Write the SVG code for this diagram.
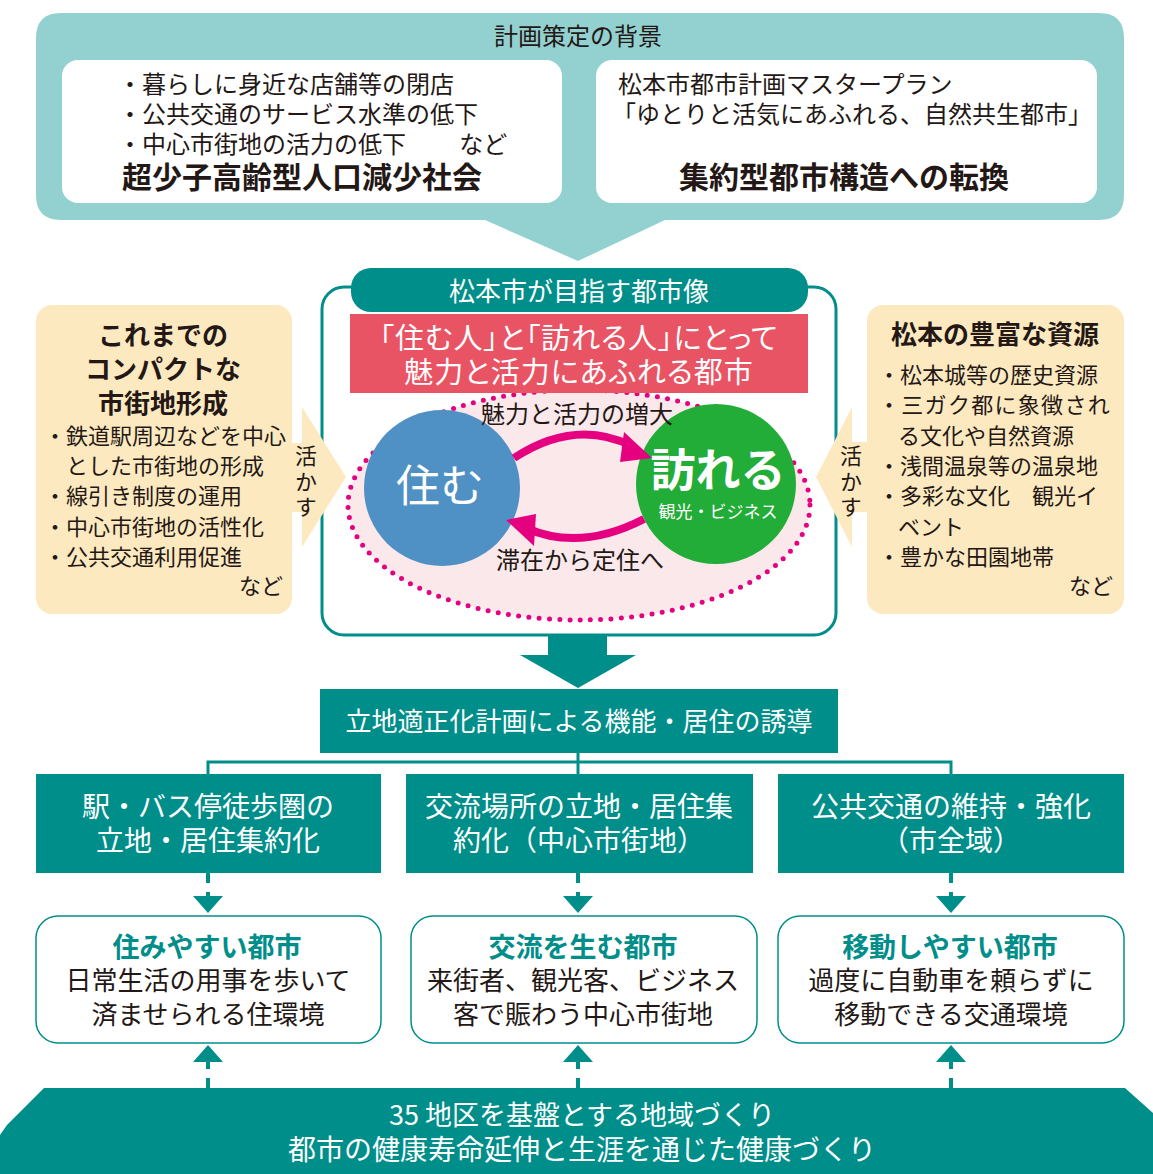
<svg xmlns="http://www.w3.org/2000/svg" width="1153" height="1174" viewBox="0 0 1153 1174">
<defs>
<style>
text{font-family:"Noto Sans CJK JP","Noto Sans",sans-serif;fill:#231815}
.c{text-anchor:middle}
.w{fill:#fff}
.b{font-weight:bold}
.tl{fill:#008e8a}
.teal{fill:#008e8a}
.beige{fill:#fde9c0}
.res{fill:#fff;stroke:#008e8a;stroke-width:1.5}
.ln{stroke:#008e8a;stroke-width:3;fill:none}
.dash{stroke:#008e8a;stroke-width:4;stroke-dasharray:10 9;fill:none}
.mg{stroke:#e4007f;stroke-width:8;fill:none}
.v{writing-mode:vertical-rl;font-size:22px;letter-spacing:3.5px}
.palt{font-feature-settings:"palt"}
</style>
</defs>
<rect width="1153" height="1174" fill="#fff"/>

<g id="background">
<path d="M61 13 H1099 Q1124 13 1124 38 V195 Q1124 220 1099 220 H665 L578 261 L485 220 H61 Q36 220 36 195 V38 Q36 13 61 13 Z" fill="#93d1d1"/>
<text class="c" x="578" y="45" font-size="24">計画策定の背景</text>
<rect x="62" y="60" width="500" height="143" rx="16" fill="#fff"/>
<text font-size="24" xml:space="preserve"><tspan x="118" y="93">・暮らしに身近な店舗等の閉店</tspan><tspan x="118" y="123">・公共交通のサービス水準の低下</tspan><tspan x="118" y="153">・中心市街地の活力の低下　　 など</tspan></text>
<text class="c b" x="302" y="188" font-size="30">超少子高齢型人口減少社会</text>
<rect x="596" y="60" width="501" height="143" rx="16" fill="#fff"/>
<text font-size="24"><tspan x="618" y="93">松本市都市計画マスタープラン</tspan><tspan x="612" y="123">「ゆとりと活気にあふれる、自然共生都市」</tspan></text>
<text class="c b" x="844" y="188" font-size="30">集約型都市構造への転換</text>
</g>

<g id="vision">
<rect x="322" y="287" width="514" height="348" rx="22" fill="#fff" stroke="#008e8a" stroke-width="3"/>
<ellipse cx="579" cy="505" rx="231" ry="115" fill="#fbe8eb" stroke="#e4007f" stroke-width="5" stroke-dasharray="0 10.3" stroke-linecap="round"/>
<rect x="351" y="268" width="457" height="44" rx="20" class="teal"/>
<text class="c w" x="579" y="301" font-size="26">松本市が目指す都市像</text>
<rect x="350" y="314" width="458" height="79" fill="#e95464"/>
<text class="c w palt" font-size="29" letter-spacing="1"><tspan x="579" y="349">「住む人」と「訪れる人」にとって</tspan><tspan x="579" y="383">魅力と活力にあふれる都市</tspan></text>
<circle cx="442" cy="488" r="78" fill="#4f91c4"/>
<text class="c w" x="440" y="502" font-size="44">住む</text>
<circle cx="716" cy="484" r="80" fill="#22ac38"/>
<text class="c w b" x="718" y="487" font-size="45">訪れる</text>
<text class="c w" x="718" y="518" font-size="17">観光・ビジネス</text>
<path class="mg" d="M514 458 Q575 418 632 446"/>
<polygon points="652,458 624,432 620,462" fill="#e4007f"/>
<path class="mg" d="M644 519 Q580 552 526 528"/>
<polygon points="506,520 534,546 536,514" fill="#e4007f"/>
<text class="c" x="577" y="423" font-size="24">魅力と活力の増大</text>
<text class="c" x="580" y="569" font-size="24">滞在から定住へ</text>
</g>

<g id="left-box">
<rect x="36" y="305" width="256" height="309" rx="16" class="beige"/>
<polygon points="290,443 302,443 302,407 346,477 302,547 302,512 290,512" class="beige"/>
<text class="c b" font-size="26"><tspan x="163" y="345">これまでの</tspan><tspan x="163" y="379">コンパクトな</tspan><tspan x="163" y="413">市街地形成</tspan></text>
<text font-size="22"><tspan x="44" y="444">・鉄道駅周辺などを中心</tspan><tspan x="66" y="474">とした市街地の形成</tspan><tspan x="44" y="504">・線引き制度の運用</tspan><tspan x="44" y="535">・中心市街地の活性化</tspan><tspan x="44" y="565">・公共交通利用促進</tspan><tspan x="283" y="594" text-anchor="end">など</tspan></text>
<text class="v" x="306" y="445">活かす</text>
</g>

<g id="right-box">
<rect x="867" y="305" width="257" height="309" rx="16" class="beige"/>
<polygon points="869,442 852,442 852,407 816,477 852,547 852,512 869,512" class="beige"/>
<text class="c b" x="995" y="344" font-size="26">松本の豊富な資源</text>
<text font-size="22" xml:space="preserve"><tspan x="878" y="383">・松本城等の歴史資源</tspan><tspan x="878" y="413" letter-spacing="1.3">・三ガク都に象徴され</tspan><tspan x="898" y="444">る文化や自然資源</tspan><tspan x="878" y="474">・浅間温泉等の温泉地</tspan><tspan x="878" y="504">・多彩な文化　観光イ</tspan><tspan x="898" y="535">ベント</tspan><tspan x="878" y="565">・豊かな田園地帯</tspan><tspan x="1113" y="594" text-anchor="end">など</tspan></text>
<text class="v" x="851" y="445">活かす</text>
</g>

<g id="connectors">
<polygon points="548,636 607,636 607,655 636,655 578,688 520,655 548,655" class="teal"/>
<path class="ln" d="M578 753 V762 M208 775 V762 H951 V775 M578 762 V775"/>
<path class="dash" d="M208 873 V898 M578 873 V898 M951 873 V898"/>
<polygon points="193,896 223,896 208,913" class="teal"/>
<polygon points="563,896 593,896 578,913" class="teal"/>
<polygon points="936,896 966,896 951,913" class="teal"/>
<path class="dash" d="M208 1088 V1060 M578 1088 V1060 M951 1088 V1060"/>
<polygon points="193,1062 223,1062 208,1045" class="teal"/>
<polygon points="563,1062 593,1062 578,1045" class="teal"/>
<polygon points="936,1062 966,1062 951,1045" class="teal"/>
</g>

<g id="plan">
<rect x="320" y="689" width="518" height="64" class="teal"/>
<text class="c w" x="579" y="731" font-size="26">立地適正化計画による機能・居住の誘導</text>
</g>

<g id="measure1">
<rect x="36" y="774" width="345" height="99" class="teal"/>
<text class="c w" font-size="28"><tspan x="208" y="817">駅・バス停徒歩圏の</tspan><tspan x="208" y="851">立地・居住集約化</tspan></text>
</g>
<g id="measure2">
<rect x="406" y="774" width="347" height="99" class="teal"/>
<text class="c w" font-size="28"><tspan x="579" y="817">交流場所の立地・居住集</tspan><tspan x="579" y="851">約化（中心市街地）</tspan></text>
</g>
<g id="measure3">
<rect x="778" y="774" width="346" height="99" class="teal"/>
<text class="c w" font-size="28"><tspan x="951" y="817">公共交通の維持・強化</tspan><tspan x="951" y="851">（市全域）</tspan></text>
</g>

<g id="result1">
<rect x="36" y="916" width="345" height="127" rx="22" class="res"/>
<text class="c" font-size="26"><tspan x="207" y="957" class="b tl" font-size="27">住みやすい都市</tspan><tspan x="208" y="990">日常生活の用事を歩いて</tspan><tspan x="208" y="1024">済ませられる住環境</tspan></text>
</g>
<g id="result2">
<rect x="411" y="916" width="346" height="127" rx="22" class="res"/>
<text class="c" font-size="26"><tspan x="583" y="957" class="b tl" font-size="27">交流を生む都市</tspan><tspan x="583" y="990">来街者、観光客、ビジネス</tspan><tspan x="583" y="1024">客で賑わう中心市街地</tspan></text>
</g>
<g id="result3">
<rect x="778" y="916" width="346" height="127" rx="22" class="res"/>
<text class="c" font-size="26"><tspan x="950" y="957" class="b tl" font-size="27">移動しやすい都市</tspan><tspan x="951" y="990">過度に自動車を頼らずに</tspan><tspan x="951" y="1024">移動できる交通環境</tspan></text>
</g>

<g id="foundation">
<polygon points="44,1088 1125,1088 1153,1113 1153,1174 0,1174 0,1135 7,1125" class="teal"/>
<text class="c w" font-size="27"><tspan x="582" y="1125">35 地区を基盤とする地域づくり</tspan><tspan x="582" y="1160" font-size="28">都市の健康寿命延伸と生涯を通じた健康づくり</tspan></text>
</g>
</svg>
